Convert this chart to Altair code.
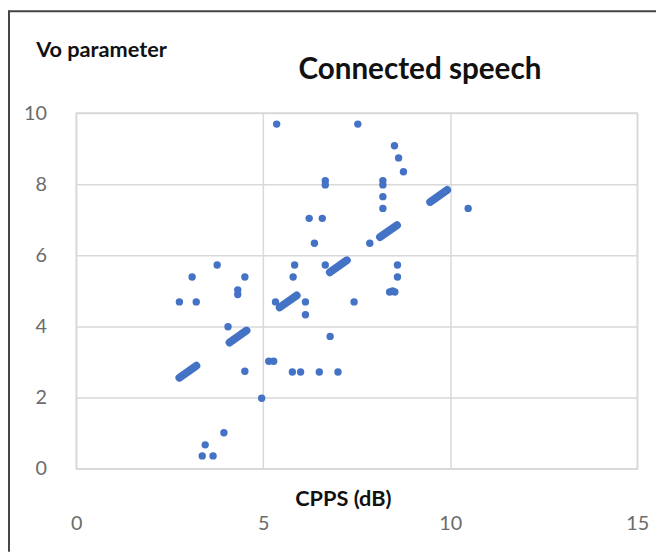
import altair as alt
import pandas as pd

# Scatter values (CPPS in dB, Vo parameter)
cpps = [2.76, 3.10, 3.21, 3.77, 4.51, 4.32, 4.32, 4.06, 4.51, 4.96,
        5.15, 5.28, 5.78, 6.00, 6.50, 7.00, 5.33, 5.84, 5.80, 6.13,
        6.13, 6.79, 6.66, 7.43, 8.59, 8.59, 8.38, 8.46, 8.52, 5.36,
        7.53, 6.66, 6.66, 8.20, 8.20, 8.20, 8.20, 6.23, 6.58, 6.37,
        7.85, 8.51, 8.62, 8.75, 10.48, 3.95, 3.45, 3.37, 3.66]
vo = [4.69, 5.39, 4.69, 5.73, 5.39, 5.03, 4.90, 3.99, 2.74, 1.98,
      3.02, 3.02, 2.72, 2.72, 2.72, 2.72, 4.69, 5.73, 5.39, 4.69,
      4.33, 3.72, 5.73, 4.69, 5.73, 5.39, 4.97, 5.00, 4.97, 9.69,
      9.69, 8.10, 7.98, 8.10, 7.98, 7.65, 7.32, 7.04, 7.04, 6.34,
      6.34, 9.08, 8.74, 8.35, 7.32, 1.01, 0.67, 0.36, 0.36]

# Linear trend line end points (as drawn in the reference)
trend_cpps = [2.76, 10.48]
trend_vo = [2.56, 8.25]

x_ticks = [0, 5, 10, 15]
y_ticks = [0, 2, 4, 6, 8, 10]

chart_title = "Connected speech"
x_title = "CPPS (dB)"
y_title = "Vo parameter"

pts = pd.DataFrame({"CPPS": cpps, "Vo": vo})
trend = pd.DataFrame({"CPPS": trend_cpps, "Vo": trend_vo})
one = pd.DataFrame({"k": [0]})

BLUE = "#4472C4"
GRID = "#d9d9d9"
LABEL = "#6b6b6b"

xscale = alt.Scale(domain=[0, 15], nice=False, zero=False)
yscale = alt.Scale(domain=[0, 10], nice=False, zero=False)

xaxis = alt.Axis(values=x_ticks, title=x_title, titleX=270, titleY=30,
                 titleAlign="center", titleBaseline="middle",
                 titleFont="Lato", titleFontSize=22, titleFontWeight="bold",
                 titleColor="#111111", labelFont="Lato", labelFontSize=20,
                 labelColor=LABEL, labelPadding=46, ticks=False, domain=False,
                 grid=True, gridColor=GRID, gridWidth=1.5, labelFlush=False)
yaxis = alt.Axis(values=y_ticks, title=y_title, titleAngle=0, titleX=-41,
                 titleY=-64, titleAlign="left", titleBaseline="middle",
                 titleFont="Lato", titleFontSize=22, titleFontWeight="bold",
                 titleColor="#111111", labelFont="Lato", labelFontSize=20,
                 labelColor=LABEL, labelPadding=30, ticks=False, domain=False,
                 grid=True, gridColor=GRID, gridWidth=1.5)

points = alt.Chart(pts).mark_circle(size=56, color=BLUE, opacity=1).encode(
    x=alt.X("CPPS:Q", scale=xscale, axis=xaxis),
    y=alt.Y("Vo:Q", scale=yscale, axis=yaxis),
)

trend_line = alt.Chart(trend).mark_line(
    color=BLUE, strokeWidth=8, strokeDash=[21, 41], strokeCap="round"
).encode(
    x=alt.X("CPPS:Q", scale=xscale),
    y=alt.Y("Vo:Q", scale=yscale),
)

title_text = alt.Chart(one).mark_text(
    text=chart_title, font="Lato", fontSize=30, fontWeight="bold",
    color="#111111", align="center", baseline="middle"
).encode(x=alt.value(348), y=alt.value(-44))

frame_left = alt.Chart(one).mark_rule(color="#444444", strokeWidth=2).encode(
    x=alt.value(-68), y=alt.value(-104), y2=alt.value(444))
frame_top = alt.Chart(one).mark_rule(color="#444444", strokeWidth=2).encode(
    x=alt.value(-68), x2=alt.value(590), y=alt.value(-103))

chart = alt.layer(frame_left, frame_top, trend_line, points, title_text).properties(
    width=568, height=360,
    autosize=alt.AutoSizeParams(type="none"),
    padding={"left": 69, "top": 103, "right": 19, "bottom": 85},
    background="white",
).configure_view(stroke=GRID, strokeWidth=1.5)

chart.save("out.html", embed_options={"renderer": "svg", "actions": False})
